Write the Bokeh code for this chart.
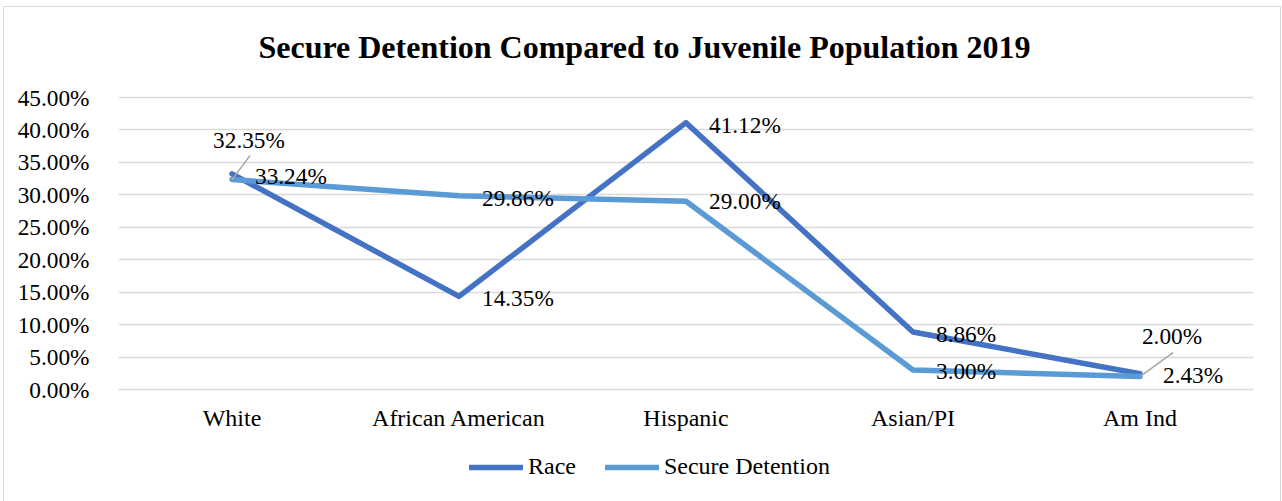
from bokeh.plotting import figure
from bokeh.models import (NumeralTickFormatter, Legend, LegendItem, Label,
                          FixedTicker, Range1d, ColumnDataSource, InlineStyleSheet)
from bokeh.core.properties import value
from bokeh.embed import file_html
from bokeh.resources import INLINE

# ---------------- data ----------------
categories = ["White", "African American", "Hispanic", "Asian/PI", "Am Ind"]
race = [33.24, 14.35, 41.12, 8.86, 2.43]          # percent
secure = [32.35, 29.86, 29.00, 3.00, 2.00]        # percent
y_ticks = [0, 5, 10, 15, 20, 25, 30, 35, 40, 45]  # percent
title_text = "Secure Detention Compared to Juvenile Population 2019"
series_names = ["Race", "Secure Detention"]

# ---------------- styles / layout ----------------
FONT = "Liberation Serif"
RACE_COLOR = "#4472C4"
SECURE_COLOR = "#5B9BD5"
GRID_COLOR = "#d9d9d9"
TXT = "#000000"
FS_NUM = "23.3px"
FS_CAT = "24px"
W, H = 1282, 501
PLOT_TOP, PLOT_BOTTOM = 97, 389        # pixel rows of 45% and 0%
px_per_unit_y = (PLOT_BOTTOM - PLOT_TOP) / (y_ticks[-1] / 100)
px_per_cat = (1253 - 118) / len(categories)

race_f = [v / 100 for v in race]
secure_f = [v / 100 for v in secure]

# frame spans full chart height so that title / legend can live inside it
y_top = y_ticks[-1] / 100 + (PLOT_TOP - 6) / px_per_unit_y
y_bot = -(H - PLOT_BOTTOM) / px_per_unit_y

p = figure(width=W, height=H, x_range=categories,
           y_range=Range1d(y_bot, y_top),
           output_backend="svg", toolbar_location=None,
           min_border_left=118, min_border_right=29,
           min_border_top=6, min_border_bottom=0)
p.outline_line_color = None
p.background_fill_alpha = 0
p.border_fill_alpha = 0

# thin grey chart border (drawn behind the transparent canvas)
border_css = (
    "background:"
    " linear-gradient(#d9d9d9,#d9d9d9) 3px 6px / 1px 100% no-repeat,"
    " linear-gradient(#d9d9d9,#d9d9d9) 3px 6px / 1278px 1px no-repeat,"
    " linear-gradient(#d9d9d9,#d9d9d9) 1280px 6px / 1px 100% no-repeat,"
    " #ffffff;"
)
p.stylesheets = [InlineStyleSheet(css=":host {" + border_css + "}")]

# axes
p.yaxis.ticker = FixedTicker(ticks=[t / 100 for t in y_ticks])
p.yaxis.formatter = NumeralTickFormatter(format="0.00%")
p.xaxis.fixed_location = 0
for ax in (p.xaxis[0], p.yaxis[0]):
    ax.axis_line_color = None
    ax.major_tick_line_color = None
    ax.minor_tick_line_color = None
    ax.major_label_text_font = FONT
    ax.major_label_text_color = TXT
p.yaxis.major_label_text_font_size = FS_NUM
p.xaxis.major_label_text_font_size = FS_CAT
p.yaxis.major_label_standoff = 23
p.xaxis.major_label_standoff = 9

p.xgrid.grid_line_color = None
p.ygrid.grid_line_color = GRID_COLOR
p.ygrid.grid_line_width = 1.5

# lines
r_race = p.line(categories, race_f, line_color=RACE_COLOR, line_width=5.5,
                line_cap="round", line_join="round")
r_sec = p.line(categories, secure_f, line_color=SECURE_COLOR, line_width=5.5,
               line_cap="round", line_join="round")

# data labels (label placement offsets in pixels)
race_dx = [23, 23, 23, 23, 23]
race_dy = [2, 2, 2, 2, 1]
race_src = ColumnDataSource(dict(x=categories, y=race_f,
                                 t=[f"{v:.2f}%" for v in race],
                                 dx=race_dx, dy=race_dy))
p.text(x="x", y="y", text="t", x_offset="dx", y_offset="dy", source=race_src,
       text_font=value(FONT), text_font_size=FS_NUM, text_color=TXT,
       text_align="left", text_baseline="middle")

sec_dx = [17, 23, 23, 23, 32]
sec_dy = [-40, 2, 0, 1, -41]
sec_align = ["center", "left", "left", "left", "center"]
sec_src = ColumnDataSource(dict(x=categories, y=secure_f,
                                t=[f"{v:.2f}%" for v in secure],
                                dx=sec_dx, dy=sec_dy, al=sec_align))
p.text(x="x", y="y", text="t", x_offset="dx", y_offset="dy", source=sec_src,
       text_font=value(FONT), text_font_size=FS_NUM, text_color=TXT,
       text_align="al", text_baseline="middle")

# leader lines for the two moved labels (secure detention, first & last)
lead_idx = [0, 4]
lead_dx = [18, 33]
lead_dy = [24, 24]
p.segment(x0=[categories[i] for i in lead_idx],
          y0=[secure_f[i] for i in lead_idx],
          x1=[(categories[i], lead_dx[k] / px_per_cat) for k, i in enumerate(lead_idx)],
          y1=[secure_f[i] + lead_dy[k] / px_per_unit_y for k, i in enumerate(lead_idx)],
          line_color="#a6a6a6", line_width=1.5)

# title (screen units, relative to the frame)
p.add_layout(Label(x=644 - 118, y=H - 46, x_units="screen", y_units="screen",
                   text=title_text, text_font=FONT, text_font_size="32px",
                   text_font_style="bold", text_color=TXT,
                   text_align="center", text_baseline="middle"))

# legend
legend = Legend(items=[LegendItem(label=series_names[0], renderers=[r_race]),
                       LegendItem(label=series_names[1], renderers=[r_sec])],
                orientation="horizontal", location=(351, 21),
                label_text_font=FONT, label_text_font_size=FS_CAT,
                label_text_color=TXT, glyph_width=54, glyph_height=24,
                spacing=29, label_standoff=5, padding=0, margin=0,
                border_line_color=None, background_fill_alpha=0)
p.add_layout(legend, "center")

open("out.html", "w").write(file_html(p, INLINE))
